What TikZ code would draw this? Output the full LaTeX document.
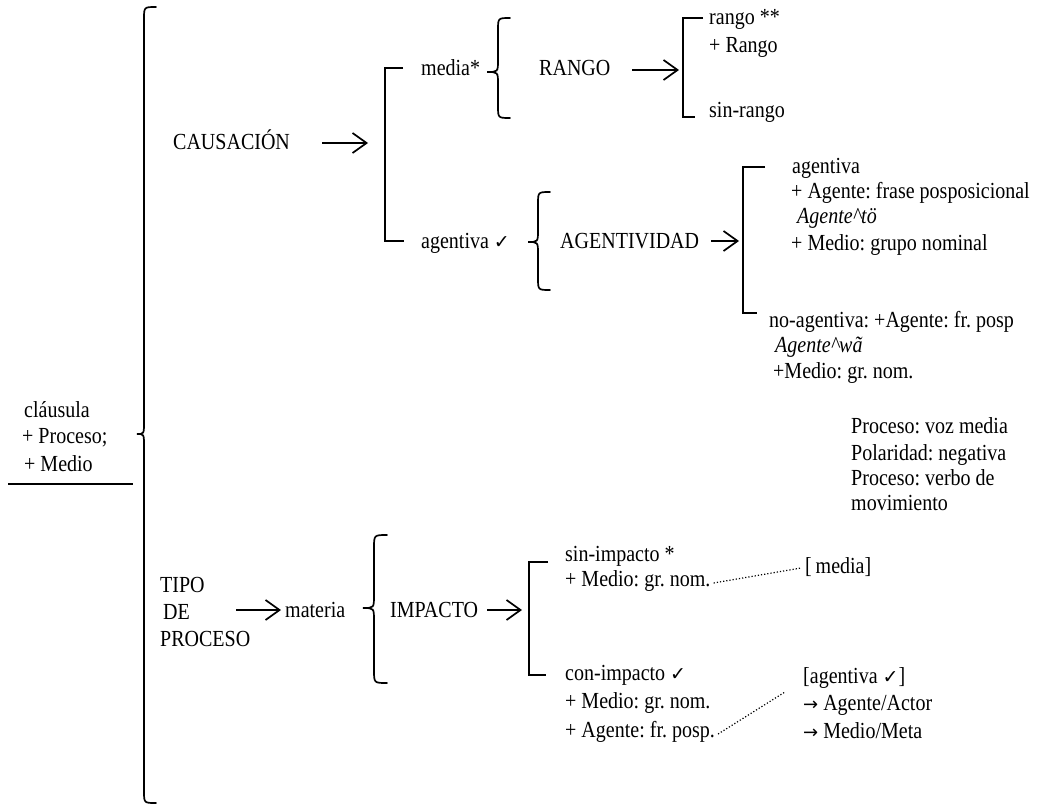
\documentclass[tikz,border=0pt]{standalone}
\usepackage{fontspec}
\setmainfont{Liberation Serif}[FakeStretch=0.87]
\newfontfamily\dvfont{DejaVu Sans}
\usetikzlibrary{arrows.meta,calc}
\newcommand\ck{{\dvfont\fontsize{19}{19}\selectfont ✓}}
\newcommand\rarr{{\dvfont\fontsize{18}{18}\selectfont →}}
\newcommand\mybrace[6]{\draw[brc] ({#1+#6},#2) .. controls (#1,#2) .. (#1,{#2+#6}) -- (#1,{#3-#6}) .. controls (#1,#3) .. ({#1-#5},#3) .. controls (#1,#3) .. (#1,{#3+#6}) -- (#1,{#4-#6}) .. controls (#1,#4) .. ({#1+#6},#4);}
\tikzset{
  lbl/.style={anchor=base west, inner sep=0pt, font=\fontsize{23}{25}\selectfont\frenchspacing},
  ilbl/.style={lbl, font=\fontsize{23}{25}\selectfont\itshape},
  brc/.style={line width=1.7pt, line cap=round},
  brk/.style={line width=2pt},
  arr/.style={line width=1.7pt, -{Straight Barb[length=14pt,width=20pt,line width=1.7pt]}},
  dots/.style={line width=1.2pt, dash pattern=on 1.2pt off 2pt}
}
\begin{document}
\begin{tikzpicture}[x=1pt,y=-1pt]
\useasboundingbox (0,0) rectangle (1043,805);
% left root
\node[lbl] (cl1) at (24,417) {cláusula};
\node[lbl] (cl2) at (22,443) {+ Proceso;};
\node[lbl] (cl3) at (24,471) {+ Medio};
\coordinate (ul1) at (8,484);
\coordinate (ul2) at (133,484);
\draw[line width=1.8pt] (ul1) -- (ul2);
\mybrace{144}{7}{434}{803}{7}{12}
% CAUSACION
\node[lbl] (caus) at (173,150) {CAUSACIÓN};
\coordinate (a1s) at (322,143);
\coordinate (a1e) at (368,143);
\draw[arr] (a1s) -- (a1e);
\draw[brk] (403,68) -- (385,68) -- (385,241) -- (404,241);
\node[lbl] (media) at (421,76) {media*};
\mybrace{498}{18}{72}{118}{11}{12}
\node[lbl] (rangoT) at (539,76) {RANGO};
\coordinate (a2s) at (632,70);
\coordinate (a2e) at (679,70);
\draw[arr] (a2s) -- (a2e);
\draw[brk] (703,18) -- (683,18) -- (683,117) -- (695,117);
\node[lbl] (r1) at (709,25) {rango **};
\node[lbl] (r2) at (709,53) {+ Rango};
\node[lbl] (r3) at (709,118) {sin-rango};
\node[lbl] (agv) at (421,248) {agentiva \ck};
\mybrace{538}{192}{242}{290}{10}{12}
\node[lbl] (agvd) at (560,248) {AGENTIVIDAD};
\coordinate (a3s) at (711,241);
\coordinate (a3e) at (739,241);
\draw[arr] (a3s) -- (a3e);
\draw[brk] (765,167) -- (743,167) -- (743,313) -- (757,313);
\node[lbl] (g1) at (792,174) {agentiva};
\node[lbl] (g2) at (791,198) {+ Agente: frase posposicional};
\node[ilbl] (g3) at (797,223) {Agente\textasciicircum tö};
\node[lbl] (g4) at (791,250) {+ Medio: grupo nominal};
\node[lbl] (n1) at (769,327) {no-agentiva: +Agente: fr. posp};
\node[ilbl] (n2) at (775,352) {Agente\textasciicircum wã};
\node[lbl] (n3) at (773,378) {+Medio: gr. nom.};
% right notes
\node[lbl] (p1) at (851,433) {Proceso: voz media};
\node[lbl] (p2) at (851,460) {Polaridad: negativa};
\node[lbl] (p3) at (851,485) {Proceso: verbo de};
\node[lbl] (p4) at (851,510) {movimiento};
% TIPO DE PROCESO
\node[lbl] (t1) at (160,592) {TIPO};
\node[lbl] (t2) at (163,619) {DE};
\node[lbl] (t3) at (160,646) {PROCESO};
\coordinate (a4s) at (236,610);
\coordinate (a4e) at (281,610);
\draw[arr] (a4s) -- (a4e);
\node[lbl] (mat) at (285,617) {materia};
\mybrace{374}{535}{608}{683}{11}{13}
\node[lbl] (imp) at (390,617) {IMPACTO};
\coordinate (a5s) at (487,610);
\coordinate (a5e) at (522,610);
\draw[arr] (a5s) -- (a5e);
\draw[brk] (548,562) -- (529,562) -- (529,675) -- (546,675);
\node[lbl] (s1) at (565,561) {sin-impacto *};
\node[lbl] (s2) at (565,586) {+ Medio: gr. nom.};
\node[lbl] (med) at (805,573) {[\,media]};
\node[lbl] (c1) at (565,680) {con-impacto \ck};
\node[lbl] (c2) at (565,708) {+ Medio: gr. nom.};
\node[lbl] (c3) at (565,737) {+ Agente: fr. posp.};
\node[lbl] (h1) at (803,683) {[agentiva \ck]};
\node[lbl] (h2) at (803,710) {\rarr\ Agente/Actor};
\node[lbl] (h3) at (803,738) {\rarr\ Medio/Meta};
\draw[dots] ($(s2.base east)+(3,-3)$) -- ($(med.base west)+(-4,-5)$);
\coordinate (d2e) at (785,692);
\draw[dots] ($(c3.base east)+(3,-3)$) -- (d2e);
\end{tikzpicture}
\end{document}
